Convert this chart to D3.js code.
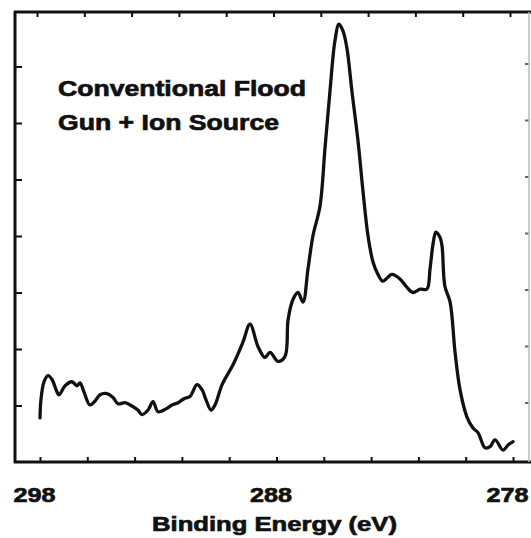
<!DOCTYPE html>
<html>
<head>
<meta charset="utf-8">
<script src="https://cdn.jsdelivr.net/npm/d3@7"></script>
<style>
  html, body { margin: 0; padding: 0; background: #fff; }
  svg { display: block; }
  text { font-family: "Liberation Sans", Arial, Helvetica, sans-serif; font-weight: bold; fill: #111; stroke: #111; stroke-width: 0.7px; }
</style>
</head>
<body>
<svg id="chart" width="531" height="538"></svg>
<script>
// C 1s spectrum, binding energy (eV) vs. intensity (arb. units)
const bindingEnergy = [
  298.00, 297.96, 297.83, 297.66, 297.49, 297.32, 297.20, 296.94, 296.65, 296.44,
  296.31, 296.14, 295.89, 295.67, 295.46, 295.17, 294.91, 294.70, 294.41, 294.15,
  293.86, 293.69, 293.43, 293.22, 293.01, 292.67, 292.42, 292.16, 291.91, 291.66,
  291.36, 291.15, 290.98, 290.77, 290.60, 290.30, 289.84, 289.42, 289.12, 288.78,
  288.49, 288.27, 287.94, 287.64, 287.51, 287.30, 287.09, 286.88, 286.67, 286.46,
  286.16, 285.95, 285.74, 285.53, 285.36, 285.19, 285.02, 284.81, 284.55, 284.34,
  284.13, 283.92, 283.71, 283.50, 283.29, 283.12, 282.78, 282.48, 282.23, 281.93,
  281.64, 281.51, 281.38, 281.26, 281.09, 281.00, 280.88, 280.66, 280.45, 280.24,
  279.95, 279.69, 279.48, 279.18, 278.97, 278.76, 278.42, 278.21, 278.00
];
const intensity = [
  0.78, 1.10, 1.42, 1.53, 1.46, 1.28, 1.19, 1.35, 1.42, 1.35,
  1.40, 1.24, 1.01, 1.08, 1.19, 1.21, 1.14, 1.03, 1.05, 1.00,
  0.92, 0.84, 0.92, 1.07, 0.89, 0.94, 1.01, 1.05, 1.12, 1.16,
  1.37, 1.28, 1.10, 0.92, 1.01, 1.37, 1.72, 2.12, 2.44, 2.04,
  1.85, 1.94, 1.78, 1.87, 2.52, 2.88, 3.00, 2.83, 3.41, 4.00,
  4.53, 5.55, 6.56, 7.45, 7.75, 7.63, 7.32, 6.56, 5.67, 4.78,
  4.00, 3.54, 3.32, 3.20, 3.27, 3.32, 3.24, 3.09, 3.00, 3.06,
  3.06, 3.41, 3.86, 4.07, 3.98, 3.82, 3.11, 2.83, 1.94, 1.28,
  0.80, 0.60, 0.52, 0.25, 0.27, 0.39, 0.21, 0.30, 0.36
];

// Axis ticks and labels
const xTicks = [298, 296, 294, 292, 290, 288, 286, 284, 282, 280, 278];
const xTickLabels = [298, 288, 278];
const yTicks = [1, 2, 3, 4, 5, 6, 7];
const xTitle = "Binding Energy (eV)";
const annotation = ["Conventional Flood", "Gun + Ion Source"];

const svg = d3.select("#chart");

// Plot frame
const frame = { left: 15, right: 529, top: 12, bottom: 462 };

const x = d3.scaleLinear().domain([298, 278]).range([40, 513]);
const y = d3.scaleLinear().domain([0, 8]).range([frame.bottom, 10]);

// Bottom axis, ticks pointing inward
const bottomAxis = d3.axisBottom(x)
  .tickValues(xTicks)
  .tickSize(-5)
  .tickPadding(25)
  .tickFormat(d => xTickLabels.includes(d) ? d : "");
const gB = svg.append("g").attr("transform", `translate(0,${frame.bottom})`).call(bottomAxis);
gB.select(".domain").remove();
gB.selectAll(".tick line").attr("stroke", "#111").attr("stroke-width", 2);
gB.selectAll(".tick text")
  .attr("font-size", 21)
  .attr("dx", -6)
  .attr("textLength", 42)
  .attr("lengthAdjust", "spacingAndGlyphs");

// Top axis
const topAxis = d3.axisTop(x).tickValues(xTicks).tickSize(-5).tickFormat("");
const gT = svg.append("g").attr("transform", `translate(-3,${frame.top})`).call(topAxis);
gT.select(".domain").remove();
gT.selectAll(".tick line").attr("stroke", "#111").attr("stroke-width", 2);

// Left axis
const leftAxis = d3.axisLeft(y).tickValues(yTicks).tickSize(-7).tickFormat("");
const gL = svg.append("g").attr("transform", `translate(${frame.left},0)`).call(leftAxis);
gL.select(".domain").remove();
gL.selectAll(".tick line").attr("stroke", "#111").attr("stroke-width", 2);

// Right axis
const rightAxis = d3.axisRight(y).tickValues(yTicks).tickSize(-4).tickFormat("");
const gR = svg.append("g").attr("transform", `translate(${frame.right},-3)`).call(rightAxis);
gR.select(".domain").remove();
gR.selectAll(".tick line").attr("stroke", "#666").attr("stroke-width", 2);

// Frame lines
svg.append("line").attr("x1", frame.left).attr("x2", frame.left)
  .attr("y1", frame.top - 1).attr("y2", frame.bottom + 1)
  .attr("stroke", "#111").attr("stroke-width", 3);
svg.append("line").attr("x1", frame.left - 1).attr("x2", 531)
  .attr("y1", frame.bottom).attr("y2", frame.bottom)
  .attr("stroke", "#111").attr("stroke-width", 3);
svg.append("line").attr("x1", frame.left - 1).attr("x2", 531)
  .attr("y1", frame.top).attr("y2", frame.top)
  .attr("stroke", "#111").attr("stroke-width", 3);
svg.append("line").attr("x1", frame.right).attr("x2", frame.right)
  .attr("y1", frame.top).attr("y2", frame.bottom)
  .attr("stroke", "#bbb").attr("stroke-width", 1.5);

// Spectrum
const pts = bindingEnergy.map((e, i) => [e, intensity[i]]);
const line = d3.line()
  .x(d => x(d[0]))
  .y(d => y(d[1]))
  .curve(d3.curveCatmullRom.alpha(0.5));
svg.append("path")
  .datum(pts)
  .attr("d", line)
  .attr("fill", "none")
  .attr("stroke", "#111")
  .attr("stroke-width", 3.3)
  .attr("stroke-linejoin", "round")
  .attr("stroke-linecap", "round");

// Annotation
svg.append("text").attr("x", 58).attr("y", 96)
  .attr("font-size", 22)
  .attr("textLength", 248).attr("lengthAdjust", "spacingAndGlyphs")
  .text(annotation[0]);
svg.append("text").attr("x", 58).attr("y", 130)
  .attr("font-size", 22)
  .attr("textLength", 221).attr("lengthAdjust", "spacingAndGlyphs")
  .text(annotation[1]);

// X axis title
svg.append("text").attr("x", 152).attr("y", 531)
  .attr("font-size", 21)
  .attr("textLength", 245).attr("lengthAdjust", "spacingAndGlyphs")
  .text(xTitle);
</script>
</body>
</html>
